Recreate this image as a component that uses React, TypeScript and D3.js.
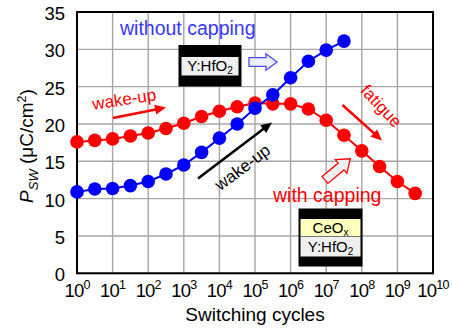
import React from "react";
import * as d3 from "d3";

// switching cycles (half-decade steps)
const cyclesNoCap = [1, 3.16, 10, 31.6, 100, 316, 1e3, 3.16e3, 1e4, 3.16e4, 1e5, 3.16e5, 1e6, 3.16e6, 1e7, 3.16e7];
const pswNoCap = [10.9, 11.3, 11.35, 11.75, 12.3, 13.3, 14.5, 16.2, 18.1, 20.0, 22.1, 23.9, 26.2, 28.4, 29.9, 31.1];

const cyclesCap = [1, 3.16, 10, 31.6, 100, 316, 1e3, 3.16e3, 1e4, 3.16e4, 1e5, 3.16e5, 1e6, 3.16e6, 1e7, 3.16e7, 1e8, 3.16e8, 1e9, 3.16e9];
const pswCap = [17.6, 17.8, 18.0, 18.4, 18.8, 19.4, 20.1, 21.0, 21.7, 22.3, 22.8, 22.7, 22.7, 22.0, 20.5, 18.5, 16.4, 14.3, 12.3, 10.7];

const yTicks = [0, 5, 10, 15, 20, 25, 30, 35];
const xTickExps = [0, 1, 2, 3, 4, 5, 6, 7, 8, 9, 10];

const FONT = "'Liberation Sans', Arial, sans-serif";
const RED = "#ff0000";
const BLUE = "#0000ff";

const W = 453;
const H = 331;

const x = d3.scaleLog().domain([1, 1e10]).range([77, 433]);
const y = d3.scaleLinear().domain([0, 35]).range([273.3, 12]);

// hollow block arrow pointing along +x, length L
const blockArrow = (L: number, sw: number, hw: number, hl: number) =>
  `M0,${-sw} L${L - hl},${-sw} L${L - hl},${-hw} L${L},0 L${L - hl},${hw} L${L - hl},${sw} L0,${sw} Z`;

const Arrow = ({ x1, y1, x2, y2, color }: { x1: number; y1: number; x2: number; y2: number; color: string }) => {
  const ang = Math.atan2(y2 - y1, x2 - x1);
  const L = Math.hypot(x2 - x1, y2 - y1);
  const deg = (ang * 180) / Math.PI;
  return (
    <g transform={`translate(${x1},${y1}) rotate(${deg})`}>
      <line x1={0} y1={0} x2={L - 8} y2={0} stroke={color} strokeWidth={2.6} />
      <path d={`M${L},0 L${L - 11},-5 L${L - 11},5 Z`} fill={color} />
    </g>
  );
};

const Series = ({ cx, cy, color }: { cx: number[]; cy: number[]; color: string }) => {
  const line = d3
    .line<number>()
    .x((_, i) => x(cx[i]))
    .y((d) => y(d));
  return (
    <g>
      <path d={line(cy) || ""} fill="none" stroke={color} strokeWidth={2} />
      {cy.map((v, i) => (
        <circle key={i} cx={x(cx[i])} cy={y(v)} r={6.8} fill={color} />
      ))}
    </g>
  );
};

export default function App() {
  const [x0, x1] = x.range();
  const [y0, y1] = y.range();
  return (
    <div style={{ position: "absolute", left: 0, top: 0 }}>
      <svg width={W} height={H} style={{ display: "block", background: "#fff" }} fontFamily={FONT}>
        {/* grid */}
        {xTickExps.map((e) => (
          <line key={"gx" + e} x1={x(10 ** e)} x2={x(10 ** e)} y1={y1} y2={y0} stroke="#a6a6a6" strokeWidth={1.4} />
        ))}
        {yTicks.map((t) => (
          <line key={"gy" + t} x1={x0} x2={x1} y1={y(t)} y2={y(t)} stroke="#a6a6a6" strokeWidth={1.4} />
        ))}
        <rect x={x0} y={y1} width={x1 - x0} height={y0 - y1} fill="none" stroke="#000" strokeWidth={2} />

        {/* y ticks */}
        {yTicks.map((t) => (
          <text key={"ty" + t} x={65} y={y(t) + 8} textAnchor="end" fontSize={18.5} fill="#000">
            {t}
          </text>
        ))}
        {/* x ticks */}
        {xTickExps.map((e) => (
          <text key={"tx" + e} x={x(10 ** e)} y={297} textAnchor="middle" fontSize={18.5} fill="#000" letterSpacing={-0.8}>
            10
            <tspan dy={-8} fontSize={12.5}>
              {e}
            </tspan>
          </text>
        ))}

        {/* axis titles */}
        <text x={255} y={321} textAnchor="middle" fontSize={19} fill="#000">
          Switching cycles
        </text>
        <text transform="translate(33,146) rotate(-90)" textAnchor="middle" fontSize={19} fill="#000">
          <tspan fontStyle="italic">P</tspan>
          <tspan fontStyle="italic" fontSize={13} dy={5}>
            SW
          </tspan>
          <tspan dy={-5}> (μC/cm</tspan>
          <tspan fontSize={12.5} dy={-7}>
            2
          </tspan>
          <tspan dy={7}>)</tspan>
        </text>

        {/* series */}
        <Series cx={cyclesCap} cy={pswCap} color={RED} />
        <Series cx={cyclesNoCap} cy={pswNoCap} color={BLUE} />

        {/* annotations */}
        <text x={120} y={35} fontSize={19.5} fill="#3737ff">
          without capping
        </text>
        <rect x={178.5} y={45} width={63} height={41.5} fill="#000" />
        <rect x={181.5} y={57} width={57} height={18.5} fill="#efefef" />
        <text x={210} y={71} textAnchor="middle" fontSize={15} fill="#000">
          Y:HfO
          <tspan fontSize={10} dy={3}>
            2
          </tspan>
        </text>
        <path d={blockArrow(28, 4.3, 8.3, 11)} transform="translate(249,62)" fill="#eef0ff" stroke="#4b4bff" strokeWidth={1.3} />

        <text transform="translate(125,105) rotate(-9)" textAnchor="middle" fontSize={17} fill={RED}>
          wake-up
        </text>
        <Arrow x1={113} y1={118} x2={166} y2={107.5} color={RED} />

        <text transform="translate(377,110) rotate(47)" textAnchor="middle" fontSize={17} fill={RED}>
          fatigue
        </text>
        <Arrow x1={342.5} y1={105} x2={382} y2={140.5} color={RED} />

        <Arrow x1={198} y1={178.5} x2={272} y2={122.5} color="#000" />
        <text transform="translate(246,172) rotate(-37)" textAnchor="middle" fontSize={17} fill="#000">
          wake-up
        </text>

        <path d={blockArrow(33, 4.5, 9, 12)} transform="translate(325,180) rotate(-40)" fill="#efefef" stroke={RED} strokeWidth={1.3} />
        <text x={273} y={202} fontSize={19.5} fill={RED}>
          with capping
        </text>

        <rect x={298.5} y={208.5} width={64} height={58} fill="#000" />
        <rect x={300.5} y={219} width={60} height={17} fill="#ffffbe" />
        <rect x={300.5} y={236.5} width={60} height={20} fill="#efefef" />
        <text x={330.5} y={233} textAnchor="middle" fontSize={15} fill="#000">
          CeO
          <tspan fontSize={10} dy={3}>
            x
          </tspan>
        </text>
        <text x={330.5} y={252} textAnchor="middle" fontSize={15} fill="#000">
          Y:HfO
          <tspan fontSize={10} dy={3}>
            2
          </tspan>
        </text>
      </svg>
    </div>
  );
}
